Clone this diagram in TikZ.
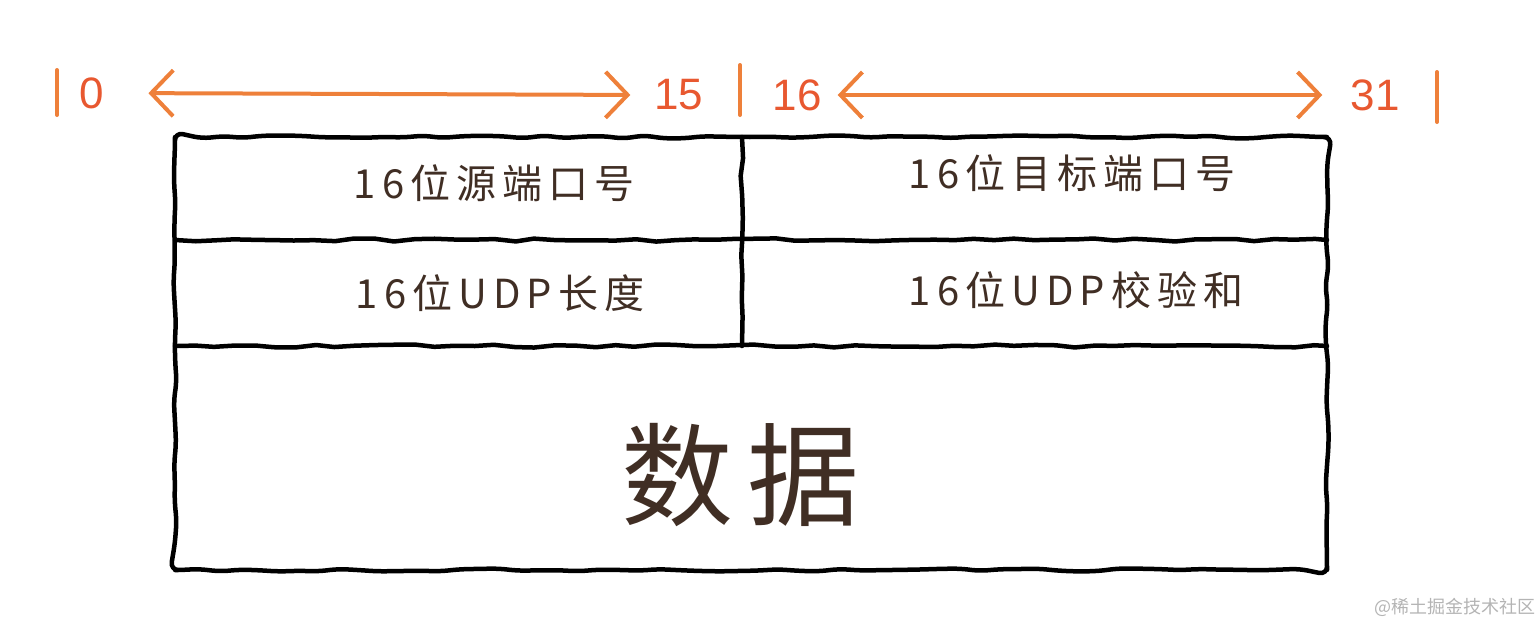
\documentclass[tikz,border=0pt]{standalone}
\usepackage{fontspec}
\setmainfont{Liberation Sans}
\newfontfamily\cjk{Noto Sans CJK SC}
\newfontfamily\cjkwide{Noto Sans CJK SC}[LetterSpace=15]
\usetikzlibrary{positioning, calc, arrows.meta, decorations.pathmorphing}
\definecolor{bitorange}{RGB}{238, 128, 58}
\definecolor{bitred}{RGB}{232, 88, 48}
\definecolor{inkbrown}{RGB}{64, 46, 36}
\definecolor{markgray}{RGB}{180, 180, 180}

\begin{document}
\begin{tikzpicture}[x=1pt, y=-1pt, every node/.style={inner sep=2pt}]
    \tikzstyle{bitlabel} = [text=bitred, font=\fontsize{44}{44}\selectfont]
    \tikzstyle{bitbar} = [draw=bitorange, line width=4pt, line cap=round]
    \tikzstyle{arrow} = [draw=bitorange, line width=4pt, line cap=round, {Straight Barb[length=22pt, width=46pt, line width=4pt]}-{Straight Barb[length=22pt, width=46pt, line width=4pt]}]
    \tikzstyle{sketch} = [draw=black, line width=4.5pt, line cap=round, line join=round, decorate, decoration={random steps, segment length=20pt, amplitude=1.6pt}]
    \tikzstyle{field} = [text=inkbrown, font=\cjkwide\fontsize{40}{40}\selectfont]
    \pgfmathsetseed{7}
    \useasboundingbox (0,0) rectangle (1540,624);

    % bit ruler
    \node (b0) [bitlabel] at (92,93) {0};
    \node (b15) [bitlabel] at (679,95) {15};
    \node (b16) [bitlabel] at (797,95) {16};
    \node (b31) [bitlabel] at (1375,95) {31};
    \draw [bitbar] (57,70) -- (57,115);
    \draw [bitbar] (740,65) -- (740,115);
    \draw [bitbar] (1437,72) -- (1437,122);
    \draw [arrow, shorten <=42pt, shorten >=22pt] (b0.east) -- (b15.west);
    \draw [arrow, shorten <=14pt, shorten >=26pt] (b16.east) -- (b31.west);

    % header frame
    \coordinate (nw) at (175,137);
    \coordinate (se) at (1327,570);
    \coordinate (midtop) at (742,137);
    \coordinate (midbot) at (742,346);
    \draw [sketch, rounded corners=8pt] (midtop) -| (se) -| (nw) -- cycle;
    \draw [sketch] (175,240) -- (1327,240);
    \draw [sketch] (175,346) -- (1327,346);
    \draw [sketch] (midtop) -- (midbot);

    % fields
    \node (src) [field] at (494,183) {16位源端口号};
    \node (dst) [field] at (1072,173) {16位目标端口号};
    \node (len) [field] at (500,293) {16位UDP长度};
    \node (chk) [field] at (1076,290) {16位UDP校验和};
    \node (data) [text=inkbrown, font=\cjk\fontsize{112}{112}\selectfont] at (740,475) {数\kern14pt 据};

    % watermark
    \node (mark) [text=markgray, font=\cjk\fontsize{18}{18}\selectfont] at (1455,607) {@稀土掘金技术社区};
\end{tikzpicture}
\end{document}
